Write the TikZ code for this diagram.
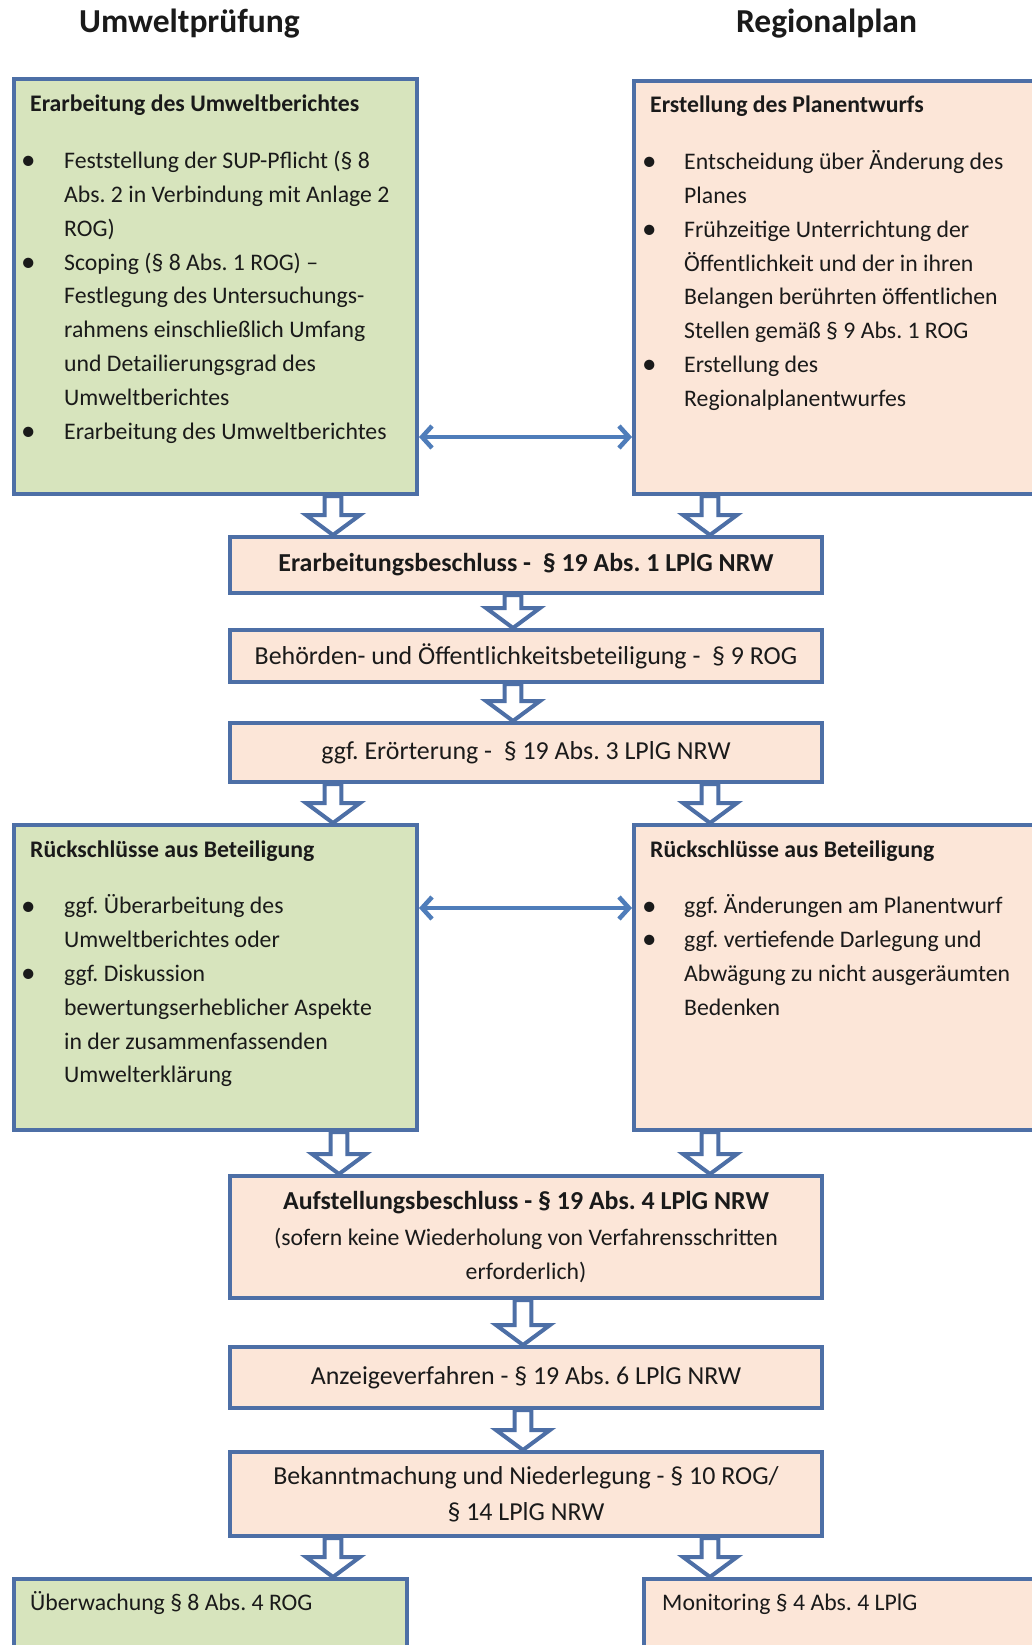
\documentclass[tikz,border=0pt]{standalone}
\usepackage{fontspec}
\setmainfont{Carlito}
\frenchspacing
\usetikzlibrary{arrows.meta,calc}
\definecolor{bordc}{HTML}{4D6FA6}
\definecolor{arrc}{HTML}{4F7DBA}
\definecolor{greenc}{HTML}{D7E4BD}
\definecolor{peachc}{HTML}{FCE6D8}
\definecolor{txtc}{HTML}{1A1A1A}
\newcommand\fsbody{\fontsize{23.75pt}{33.8pt}\selectfont}
\newcommand\fscent{\fontsize{25.9pt}{36.3pt}\selectfont}
\newcommand\fstitle{\fontsize{33.5pt}{40pt}\selectfont}
\newcommand\bul{\raisebox{-1.2pt}{\fontsize{29pt}{29pt}\selectfont •}}
\newcommand\blockdown[2]{%
  \draw[hollowarrow] let \p1=#1, \p2=#2 in
    (\x1-8.3pt,\y1) -- (\x1+8.3pt,\y1) -- (\x1+8.3pt,\y2+20pt) --
    (\x1+27pt,\y2+20pt) -- (\x1,\y2) -- (\x1-27pt,\y2+20pt) --
    (\x1-8.3pt,\y2+20pt) -- cycle;}
\tikzset{
  box/.style={draw=bordc, line width=4pt, inner sep=0pt, anchor=north west, text=txtc},
  greenbox/.style={box, fill=greenc},
  peachbox/.style={box, fill=peachc},
  centbox/.style={peachbox, minimum width=592pt, font=\fscent, align=center},
  content/.style={inner sep=0pt, text=txtc, font=\fsbody, align=left},
  titletext/.style={inner sep=0pt, text=txtc, font=\fstitle\bfseries, anchor=base},
  hollowarrow/.style={draw=bordc, fill=white, line width=4pt, line join=miter},
  dblarrow/.style={draw=arrc, line width=4.5pt, {Straight Barb[length=10pt,width=22pt]}-{Straight Barb[length=10pt,width=22pt]}},
}
\begin{document}
\begin{tikzpicture}[x=1pt,y=-1pt]
\clip (0,0) rectangle (1032,1645);
\fill[white] (0,0) rectangle (1032,1645);

% titles
\node[titletext] (tl) at (189.5,33) {Umweltprüfung};
\node[titletext] (tr) at (826.5,33) {Regionalplan};

% boxes
\node[greenbox, minimum width=403pt, minimum height=415pt] (L1) at (12,77) {};
\node[peachbox, minimum width=408pt, minimum height=413pt] (R1) at (632,79) {};
\node[centbox, minimum height=56pt, font=\fscent\bfseries] (B1) at (228,535) {Erarbeitungsbeschluss -~~§ 19 Abs. 1 LPlG NRW};
\node[centbox, minimum height=52pt] (B2) at (228,628) {Behörden- und Öffentlichkeitsbeteiligung -~~§ 9 ROG};
\node[centbox, minimum height=59pt] (B3) at (228,721) {ggf. Erörterung -~~§ 19 Abs. 3 LPlG NRW};
\node[greenbox, minimum width=403pt, minimum height=305pt] (L2) at (12,823) {};
\node[peachbox, minimum width=408pt, minimum height=305pt] (R2) at (632,823) {};
\node[centbox, minimum height=122pt, font=\fsbody] (B4) at (228,1174) {{\fscent\bfseries Aufstellungsbeschluss - § 19 Abs. 4 LPlG NRW}\\[3pt] (sofern keine Wiederholung von Verfahrensschritten\\ erforderlich)};
\node[centbox, minimum height=61pt] (B5) at (228,1345) {Anzeigeverfahren - § 19 Abs. 6 LPlG NRW};
\node[centbox, minimum height=84pt] (B6) at (228,1450) {Bekanntmachung und Niederlegung - § 10 ROG/\\ § 14 LPlG NRW};
\node[greenbox, minimum width=393pt, minimum height=120pt] (L3) at (12,1577) {};
\node[peachbox, minimum width=398pt, minimum height=120pt] (R3) at (642,1577) {};

% box contents
\node[content, anchor=base west] (L1t) at (21,112) {%
\begin{tabular}[t]{@{}p{43pt}@{}l@{}}
\multicolumn{2}{@{}l@{}}{\hspace{9pt}\textbf{Erarbeitung des Umweltberichtes}}\\[23pt]
\bul & Feststellung der SUP-Pflicht (§ 8\\
  & Abs. 2 in Verbindung mit Anlage 2\\
  & ROG)\\
\bul & Scoping (§ 8 Abs. 1 ROG) –\\
  & Festlegung des Untersuchungs-\\
  & rahmens einschließlich Umfang\\
  & und Detailierungsgrad des\\
  & Umweltberichtes\\
\bul & Erarbeitung des Umweltberichtes
\end{tabular}};
\node[content, anchor=base west] (R1t) at (642,113) {%
\begin{tabular}[t]{@{}p{42pt}@{}l@{}}
\multicolumn{2}{@{}l@{}}{\hspace{8pt}\textbf{Erstellung des Planentwurfs}}\\[23pt]
\bul & Entscheidung über Änderung des\\
  & Planes\\
\bul & Frühzeitige Unterrichtung der\\
  & Öffentlichkeit und der in ihren\\
  & Belangen berührten öffentlichen\\
  & Stellen gemäß § 9 Abs. 1 ROG\\
\bul & Erstellung des\\
  & Regionalplanentwurfes
\end{tabular}};
\node[content, anchor=base west] (L2t) at (21,857) {%
\begin{tabular}[t]{@{}p{43pt}@{}l@{}}
\multicolumn{2}{@{}l@{}}{\hspace{9pt}\textbf{Rückschlüsse aus Beteiligung}}\\[23pt]
\bul & ggf. Überarbeitung des\\
  & Umweltberichtes oder\\
\bul & ggf. Diskussion\\
  & bewertungserheblicher Aspekte\\
  & in der zusammenfassenden\\
  & Umwelterklärung
\end{tabular}};
\node[content, anchor=base west] (R2t) at (642,857) {%
\begin{tabular}[t]{@{}p{42pt}@{}l@{}}
\multicolumn{2}{@{}l@{}}{\hspace{8pt}\textbf{Rückschlüsse aus Beteiligung}}\\[23pt]
\bul & ggf. Änderungen am Planentwurf\\
\bul & ggf. vertiefende Darlegung und\\
  & Abwägung zu nicht ausgeräumten\\
  & Bedenken
\end{tabular}};
\node[content, anchor=base west] (L3t) at (30,1610) {Überwachung § 8 Abs. 4 ROG};
\node[content, anchor=base west] (R3t) at (662,1610) {Monitoring § 4 Abs. 4 LPlG};

% double arrows
\coordinate (ya) at (0,437);
\coordinate (yb) at (0,908);
\draw[dblarrow] (L1.east |- ya) -- (R1.west |- ya);
\draw[dblarrow] (L2.east |- yb) -- (R2.west |- yb);

% hollow block arrows
\coordinate (xa) at (333,0);
\coordinate (xb) at (710,0);
\coordinate (xc) at (513,0);
\coordinate (xd) at (339,0);
\coordinate (xe) at (523,0);
\blockdown{(xa |- L1.south)}{(xa |- B1.north)}
\blockdown{(xb |- R1.south)}{(xb |- B1.north)}
\blockdown{(xc |- B1.south)}{(xc |- B2.north)}
\blockdown{(xc |- B2.south)}{(xc |- B3.north)}
\blockdown{(xa |- B3.south)}{(xa |- L2.north)}
\blockdown{(xb |- B3.south)}{(xb |- R2.north)}
\blockdown{(xd |- L2.south)}{(xd |- B4.north)}
\blockdown{(xb |- R2.south)}{(xb |- B4.north)}
\blockdown{(xe |- B4.south)}{(xe |- B5.north)}
\blockdown{(xe |- B5.south)}{(xe |- B6.north)}
\blockdown{(xa |- B6.south)}{(xa |- L3.north)}
\blockdown{(xb |- B6.south)}{(xb |- R3.north)}
\end{tikzpicture}
\end{document}
